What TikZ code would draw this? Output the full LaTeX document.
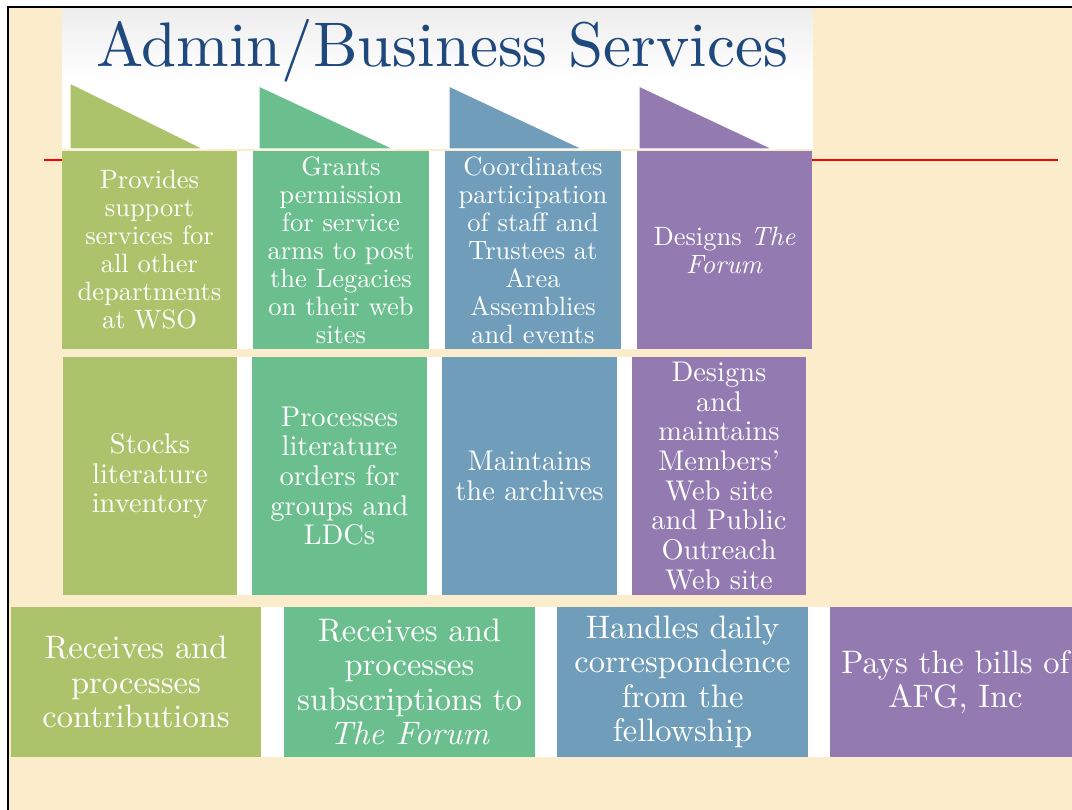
\documentclass[tikz,border=0pt]{standalone}
\usepackage{fontspec}
\setmainfont{lmroman10-regular}[Extension=.otf, ItalicFont=lmroman10-italic, BoldFont=lmroman10-bold]
\definecolor{cream}{HTML}{FBEDCB}
\definecolor{cA}{HTML}{ACC36C}
\definecolor{cB}{HTML}{6BBE8E}
\definecolor{cC}{HTML}{709DBA}
\definecolor{cD}{HTML}{937AB0}
\definecolor{titleblue}{HTML}{1F497D}
\newcommand\rowonefont{\fontsize{26.5}{28}\selectfont}
\newcommand\rowtwofont{\fontsize{28.5}{29.7}\selectfont}
\newcommand\rowthreefont{\fontsize{32.5}{34.5}\selectfont}
\newcommand\titlefont{\fontsize{63}{68}\selectfont}
\begin{document}
\begin{tikzpicture}[x=1pt,y=-1pt,
  cell/.style={inner sep=0pt, outer sep=0pt, text=white, align=center, anchor=center},
  rowone/.style={cell, minimum height=198pt, font=\rowonefont},
  rowtwo/.style={cell, minimum height=238pt, font=\rowtwofont},
  rowthree/.style={cell, minimum height=150pt, font=\rowthreefont},
  tab/.style={draw=white, line width=1.2pt, line join=miter}]
\useasboundingbox (0,0) rectangle (1072,810);
\fill[white] (0,0) rectangle (1072,810);
\fill[cream] (8,7) rectangle (1072,810);
% title panel
\shade[top color=gray!14, bottom color=white, middle color=white] (62,8) rectangle (813,149);
% red rule
\draw[red, line width=1.2pt] (44,160) -- (1058,160);
% tabs
\fill[cA, tab] (70,83) -- (70,149) -- (204,149) -- cycle;
\fill[cB, tab] (259,86) -- (259,149) -- (394,149) -- cycle;
\fill[cC, tab] (449,86) -- (449,149) -- (583,149) -- cycle;
\fill[cD, tab] (639,86) -- (639,149) -- (773,149) -- cycle;
% title
\node[anchor=base, text=titleblue, font=\titlefont, inner sep=0pt] (title) at (442,67) {Admin/Business Services};
% white bands
\fill[white] (62,151) rectangle (812,349);
\fill[white] (63,357) rectangle (806,595);
\fill[white] (11,607) rectangle (1072,757);
% row 1
\node[rowone, fill=cA, minimum width=175pt] (r1c1) at (149.5,250) {Provides\\support\\services for\\all other\\departments\\at WSO};
\node[rowone, fill=cB, minimum width=176pt] (r1c2) at (341,250) {Grants\\permission\\for service\\arms to post\\the Legacies\\on their web\\sites};
\node[rowone, fill=cC, minimum width=176pt] (r1c3) at (533,250) {Coordinates\\participation\\of staff and\\Trustees at\\Area\\Assemblies\\and events};
\node[rowone, fill=cD, minimum width=175pt] (r1c4) at (724.5,250) {Designs \textit{The}\\\textit{Forum}};
% row 2
\node[rowtwo, fill=cA, minimum width=174pt] (r2c1) at (150,476) {Stocks\\literature\\inventory};
\node[rowtwo, fill=cB, minimum width=175pt] (r2c2) at (339.5,476) {Processes\\literature\\orders for\\groups and\\LDCs};
\node[rowtwo, fill=cC, minimum width=175pt] (r2c3) at (529.5,476) {Maintains\\the archives};
\node[rowtwo, fill=cD, minimum width=174pt] (r2c4) at (719,476) {Designs\\and\\maintains\\Members’\\Web site\\and Public\\Outreach\\Web site};
% row 3
\node[rowthree, fill=cA, minimum width=250pt] (r3c1) at (136,682) {Receives and\\processes\\contributions};
\node[rowthree, fill=cB, minimum width=251pt] (r3c2) at (409.5,682) {Receives and\\processes\\subscriptions to\\\textit{The Forum}};
\node[rowthree, fill=cC, minimum width=251pt] (r3c3) at (682.5,682) {Handles daily\\correspondence\\from the\\fellowship};
\node[rowthree, fill=cD, minimum width=251pt] (r3c4) at (955.5,682) {Pays the bills of\\AFG, Inc};
% frame
\draw[black, line width=1.2pt] (8,810) -- (8,7) -- (1072,7);
\end{tikzpicture}
\end{document}
